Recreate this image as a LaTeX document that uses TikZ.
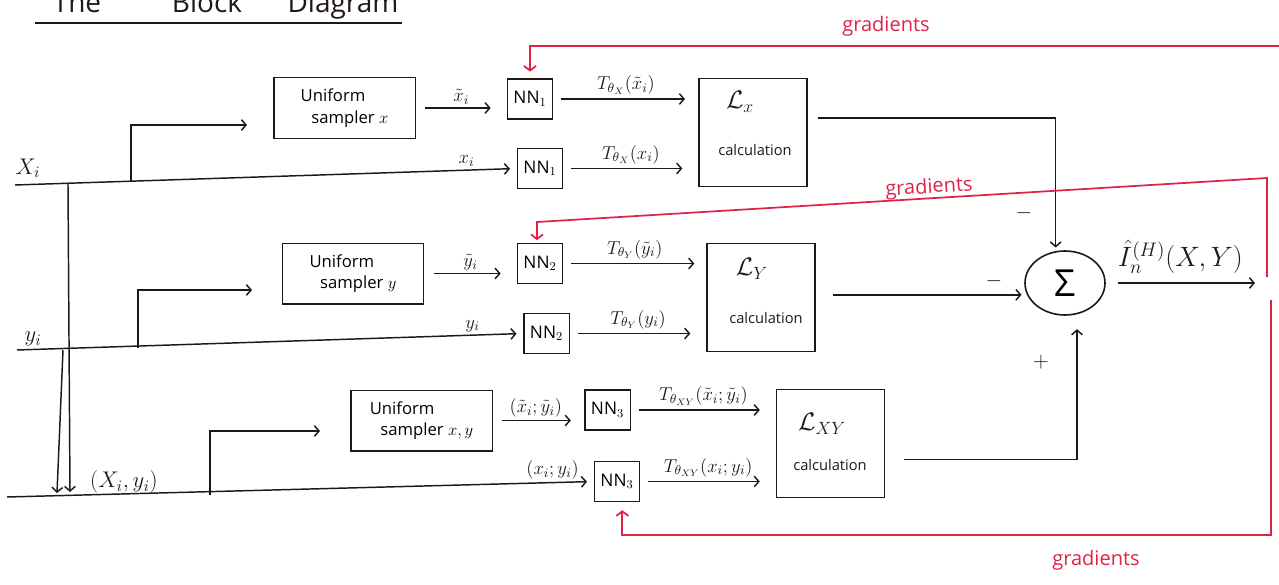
\RequirePackage{fix-cm}
\documentclass[tikz,border=0pt]{standalone}
\usepackage{fontspec}
\setmainfont{Open Sans}
\usetikzlibrary{arrows.meta,calc,shapes.geometric}
\definecolor{ink}{RGB}{32,24,22}
\definecolor{gradred}{RGB}{222,34,74}

\begin{document}
\begin{tikzpicture}[x=0.75pt,y=-0.75pt,
  wire/.style={line width=1.1pt,ink},
  arr/.style={wire,-{Straight Barb[length=3.5pt,width=8pt]}},
  grad/.style={line width=1.3pt,gradred},
  gradarr/.style={grad,-{Straight Barb[length=3.5pt,width=9pt]}},
  sampler/.style={draw=ink,line width=1pt,minimum width=106pt,minimum height=45.5pt,
    align=left,font=\fontsize{12.5}{16}\selectfont,inner sep=0pt},
  nnbox/.style={draw=ink,line width=1pt,minimum width=34pt,minimum height=30pt,
    inner sep=0pt,font=\fontsize{13}{15}\selectfont},
  calcbox/.style={draw=ink,line width=1pt,minimum width=81pt,minimum height=81pt,inner sep=0pt},
  calctxt/.style={font=\fontsize{11}{13}\selectfont,text=ink},
  lossname/.style={font=\fontsize{19}{21}\selectfont,text=ink},
  tlabel/.style={font=\fontsize{14}{16}\selectfont,text=ink,inner sep=1pt},
  wlabel/.style={font=\fontsize{14}{16}\selectfont,text=ink,inner sep=1pt},
  inlabel/.style={font=\fontsize{17}{19}\selectfont,text=ink},
  gradtxt/.style={font=\fontsize{15}{18}\selectfont,text=gradred},
  titletxt/.style={font=\fontsize{21}{24}\selectfont,text=ink,anchor=base},
  sign/.style={font=\fontsize{16}{18}\selectfont,text=ink}]

\useasboundingbox (0,0) rectangle (1279,585);
\clip (0,0) rectangle (1279,585);

% ---------- title ----------
\node[titletxt] (tThe) at (77,13) {The};
\node[titletxt] (tBlock) at (207,13) {Block};
\node[titletxt] (tDiagram) at (343,13) {Diagram};
\coordinate (ulA) at (35,23);
\coordinate (ulB) at (402,23);
\draw[wire] (ulA) -- (ulB);

% ---------- blocks ----------
\node[sampler] (sx)  at (344.5,108) {Uniform\\\hspace*{8pt}sampler $x$};
\node[sampler] (sy)  at (353,273.5) {Uniform\\\hspace*{8pt}sampler $y$};
\node[sampler] (sxy) at (421.5,420.5) {Uniform\\\hspace*{8pt}sampler $x,y$};

\node[nnbox] (nn1u) at (530,99)   {NN$_1$};
\node[nnbox] (nn1l) at (540,168.5) {NN$_1$};
\node[nnbox] (nn2u) at (540,263.5) {NN$_2$};
\node[nnbox] (nn2l) at (546.5,333.5) {NN$_2$};
\node[nnbox] (nn3u) at (607.5,410) {NN$_3$};
\node[nnbox] (nn3l) at (617,481.5) {NN$_3$};

\node[calcbox] (lx)  at (753,132.5) {};
\node[calcbox] (ly)  at (761,297.5) {};
\node[calcbox] (lxy) at (830.5,443.5) {};
\node[lossname] (lxn)  at (740,102) {$\mathcal{L}_x$};
\node[calctxt]  (lxc)  at (755,150) {calculation};
\node[lossname] (lyn)  at (752,269) {$\mathcal{L}_Y$};
\node[calctxt]  (lyc)  at (766,318) {calculation};
\node[lossname] (lxyn) at (822,424) {$\mathcal{L}_{XY}$};
\node[calctxt]  (lxyc) at (830,465) {calculation};

\node[ellipse,draw=ink,line width=1.2pt,minimum width=60pt,minimum height=48pt,
      inner sep=0pt,font=\fontsize{28}{30}\selectfont] (sum) at (1065,283) {Σ};

% ---------- inputs ----------
\node[inlabel] (lblx)  at (28,168)  {$X_i$};
\node[inlabel] (lbly)  at (33,339)  {$y_i$};
\node[inlabel] (lblxy) at (124,482) {$(X_i,y_i)$};

\coordinate (xin)  at (15,185);
\coordinate (xbr)  at (131,182);
\coordinate (xtip) at (247,125);
\coordinate (xdrop) at (68,184);
\coordinate (xdropend) at (70,492);
\coordinate (yin)  at (17,350);
\coordinate (ybr)  at (138,348);
\coordinate (ytip) at (252,290);
\coordinate (ydrop) at (63,350);
\coordinate (ydropend) at (57,493);
\coordinate (xyin) at (7,497);
\coordinate (xybr) at (210,495);
\coordinate (xytip) at (320,431);

\draw[arr,shorten >=5pt] (xin) -- node[wlabel,pos=0.9,above=1pt] (lxi) {$x_i$} (nn1l.west);
\draw[arr] (xbr) |- (xtip);
\draw[arr] (xdrop) -- (xdropend);
\draw[arr,shorten >=5pt] (yin) -- node[wlabel,pos=0.9,above=1pt] (lyi) {$y_i$} (nn2l.west);
\draw[arr] (ybr) |- (ytip);
\draw[arr] (ydrop) -- (ydropend);
\draw[arr,shorten >=5pt] (xyin) -- node[wlabel,pos=0.93,above=1pt] (lxyi) {$(x_i;y_i)$} (nn3l.west);
\draw[arr] (xybr) |- (xytip);

% ---------- sampler outputs ----------
\draw[arr,shorten <=7pt,shorten >=12pt] (sx.east) -- node[wlabel,above=1pt] (lxt) {$\tilde{x}_i$} (sx.east -| nn1u.west);
\draw[arr,shorten <=7pt,shorten >=12pt] (sy.east) -- node[wlabel,above=1pt] (lyt) {$\tilde{y}_i$} (sy.east -| nn2u.west);
\draw[arr,shorten <=7pt,shorten >=10pt] (sxy.east) -- node[wlabel,above=1pt,xshift=-2pt] (lxyt) {$(\tilde{x}_i;\tilde{y}_i)$} (sxy.east -| nn3u.west);

% ---------- critic outputs ----------
\draw[arr,shorten <=6pt,shorten >=10pt] (nn1u.east) -- node[tlabel,above=2pt] (t1u) {$T_{\theta_X}(\tilde{x}_i)$} (nn1u.east -| lx.west);
\draw[arr,shorten <=6pt,shorten >=12pt] (nn1l.east) -- node[tlabel,above=2pt] (t1l) {$T_{\theta_X}(x_i)$} (nn1l.east -| lx.west);
\draw[arr,shorten <=6pt,shorten >=9pt] (nn2u.east) -- node[tlabel,above=2pt] (t2u) {$T_{\theta_Y}(\tilde{y}_i)$} (nn2u.east -| ly.west);
\draw[arr,shorten <=6pt,shorten >=12pt] (nn2l.east) -- node[tlabel,above=2pt] (t2l) {$T_{\theta_Y}(y_i)$} (nn2l.east -| ly.west);
\draw[arr,shorten <=6pt,shorten >=12pt] (nn3u.east) -- node[tlabel,above=2pt] (t3u) {$T_{\theta_{XY}}(\tilde{x}_i;\tilde{y}_i)$} (nn3u.east -| lxy.west);
\draw[arr,shorten <=6pt,shorten >=12pt] (nn3l.east) -- node[tlabel,above=2pt] (t3l) {$T_{\theta_{XY}}(x_i;y_i)$} (nn3l.east -| lxy.west);

% ---------- loss terms into the sum ----------
\draw[arr,shorten >=2pt] ([shift={(7.5pt,11pt)}]lx.east) -| ([xshift=-7pt]sum.north);
\draw[arr,shorten <=13pt,shorten >=2pt] ([yshift=2pt]ly.east) -- ([yshift=2pt]ly.east -| sum.west);
\draw[arr,shorten >=10pt] ([shift={(14pt,-12pt)}]lxy.east) -| ([xshift=9pt]sum.south);
\node[sign] (m1) at (1024,213) {$-$};
\node[sign] (m2) at (994,281) {$-$};
\node[sign] (p1) at (1041,362) {$+$};

\coordinate (out) at (1255,283);
\draw[arr,shorten <=9pt] (sum.east) -- node[above=3pt,font=\fontsize{21}{24}\selectfont,text=ink] (mi) {$\hat{I}^{(H)}_n(X,Y)$} (out);

% ---------- gradient feedback ----------
\coordinate (g1s) at (1279,46);
\draw[gradarr,shorten >=5pt] (g1s) -| (nn1u.north);
\node[gradtxt] (g1t) at (886,26) {gradients};

\coordinate (g2a) at (1267,277);
\coordinate (g2b) at (1267,178);
\coordinate (g2c) at (537,222);
\draw[gradarr,shorten >=2pt] (g2a) -- (g2b) -- (g2c) -- (g2c |- nn2u.north);
\node[gradtxt,rotate=3.4] (g2t) at (929,188) {gradients};

\coordinate (g3a) at (1271,300);
\coordinate (g3b) at (1271,535);
\draw[gradarr,shorten >=6pt] (g3a) -- (g3b) -| ([xshift=4pt]nn3l.south);
\node[gradtxt] (g3t) at (1096,560) {gradients};
\end{tikzpicture}
\end{document}
